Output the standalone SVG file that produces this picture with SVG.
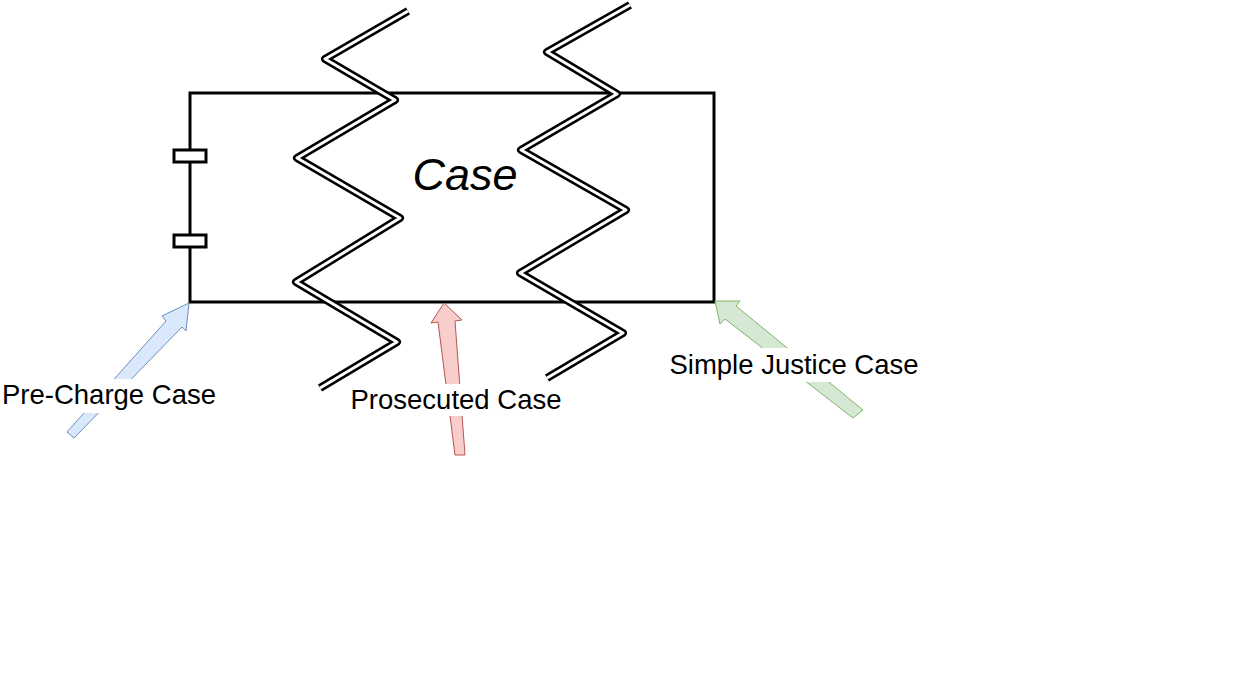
<svg xmlns="http://www.w3.org/2000/svg" width="1250" height="678" viewBox="0 0 1250 678">
<style>
.box{fill:#fff;stroke:#000;stroke-width:3}
.zo{fill:none;stroke:#000;stroke-width:8;stroke-linejoin:round}
.zi{fill:none;stroke:#fff;stroke-width:3;stroke-linejoin:round}
.lbl{font-family:"Liberation Sans",Arial,sans-serif;font-size:27.5px;fill:#000}
.title{font-family:"Liberation Sans",Arial,sans-serif;font-size:45px;font-style:italic;fill:#000}
</style>
<rect width="1250" height="678" fill="#fff"/>
<g id="case">
<rect class="box" x="190" y="93" width="524" height="209"/>
<rect class="box" x="174" y="150" width="32" height="12"/>
<rect class="box" x="174" y="235" width="32" height="12"/>
<text class="title" x="465" y="190" text-anchor="middle">Case</text>
</g>
<g id="zigzag-left">
<polyline class="zo" points="408,11 325,59 395,100 297,158 400,218 296,282 397,342 320,388"/>
<polyline class="zi" points="408,11 325,59 395,100 297,158 400,218 296,282 397,342 320,388"/>
</g>
<g id="zigzag-right">
<polyline class="zo" points="630,5 547,52 617,94 521,150 626,210 520,273 623,333 547,378"/>
<polyline class="zi" points="630,5 547,52 617,94 521,150 626,210 520,273 623,333 547,378"/>
</g>
<g id="connectors">
<polygon fill="#dae8fc" stroke="#6c8ebf" stroke-width="1" points="67,432 166,321 162,316 189,303 186,331 182,327 74,438"/>
<polygon fill="#f8cecc" stroke="#b85450" stroke-width="1" points="455,455 438,322 431,323 444,303 462,320 455,321 465,455"/>
<polygon fill="#d5e8d4" stroke="#82b366" stroke-width="1" points="863,410 736,306 740,301 715,301 720,324 725,319 853,418"/>
</g>
<g id="label-precharge">
<rect x="0" y="379" width="220" height="34" fill="#fff"/>
<text class="lbl" x="109" y="404" text-anchor="middle">Pre-Charge Case</text>
</g>
<g id="label-prosecuted">
<rect x="347" y="384" width="219" height="32" fill="#fff"/>
<text class="lbl" x="456" y="409" text-anchor="middle">Prosecuted Case</text>
</g>
<g id="label-simple">
<rect x="666" y="348" width="256" height="34" fill="#fff"/>
<text class="lbl" x="794" y="374" text-anchor="middle">Simple Justice Case</text>
</g>
</svg>
